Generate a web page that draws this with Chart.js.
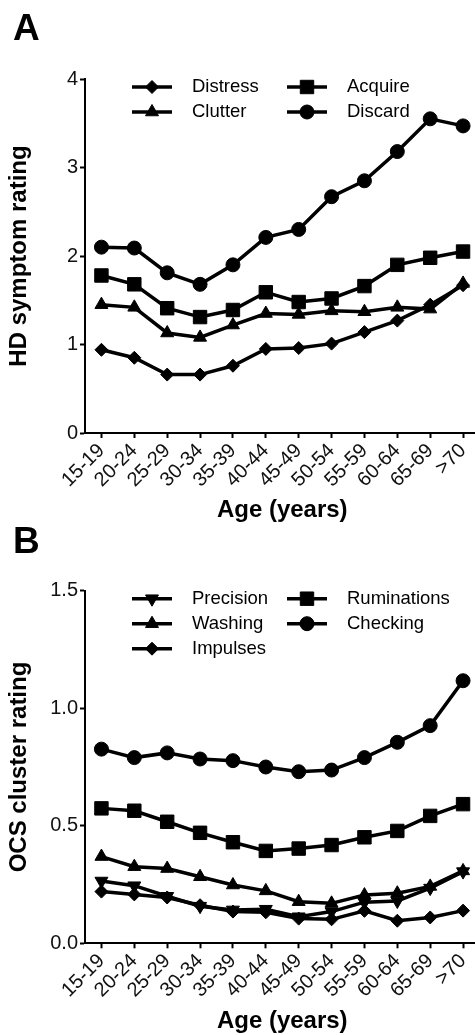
<!DOCTYPE html>
<html>
<head>
<meta charset="utf-8">
<script src="https://cdn.jsdelivr.net/npm/chart.js@4.4.1/dist/chart.umd.min.js"></script>
<style>
  html, body { margin: 0; padding: 0; background: #fff; overflow: hidden; }
  body { width: 475px; height: 1035px; position: relative; }
  canvas { position: absolute; left: 0; }
  #chartA { top: 0; }
  #chartB { top: 513px; }
  .panel { position: absolute; font: bold 37px "Liberation Sans", Arial, sans-serif; line-height: 1; color: #000; }
</style>
</head>
<body>
<canvas id="chartA" width="490" height="525"></canvas>
<canvas id="chartB" width="490" height="523"></canvas>
<div class="panel" style="left:13px;top:9px">A</div>
<div class="panel" style="left:13px;top:522px">B</div>
<script>
// age groups (x axis)
const ageGroups = ['15-19', '20-24', '25-29', '30-34', '35-39', '40-44', '45-49', '50-54', '55-59', '60-64', '65-69', '>70'];

// panel A - HD symptom rating
const distress = [0.94, 0.85, 0.66, 0.66, 0.76, 0.95, 0.96, 1.01, 1.14, 1.27, 1.45, 1.67];
const clutter  = [1.45, 1.42, 1.13, 1.08, 1.22, 1.35, 1.34, 1.38, 1.37, 1.42, 1.40, 1.69];
const acquire  = [1.78, 1.68, 1.41, 1.31, 1.39, 1.59, 1.48, 1.52, 1.66, 1.90, 1.98, 2.05];
const discard  = [2.10, 2.09, 1.81, 1.68, 1.90, 2.21, 2.30, 2.67, 2.85, 3.18, 3.55, 3.47];
const ticksA = [0, 1, 2, 3, 4];

// panel B - OCS cluster rating
const precision   = [0.265, 0.245, 0.200, 0.158, 0.142, 0.145, 0.113, 0.135, 0.175, 0.180, 0.235, 0.305];
const washing     = [0.369, 0.326, 0.318, 0.283, 0.248, 0.223, 0.177, 0.170, 0.205, 0.213, 0.242, 0.308];
const impulses    = [0.220, 0.208, 0.195, 0.162, 0.135, 0.132, 0.105, 0.102, 0.138, 0.096, 0.110, 0.139];
const ruminations = [0.574, 0.564, 0.517, 0.470, 0.430, 0.393, 0.403, 0.418, 0.451, 0.478, 0.542, 0.592];
const checking    = [0.826, 0.790, 0.810, 0.784, 0.777, 0.750, 0.730, 0.737, 0.790, 0.855, 0.926, 1.117];
const ticksB = [0, 0.5, 1.0, 1.5];

const FONT = '"Liberation Sans", Arial, sans-serif';

// marker look per shape
const markers = {
    circle:   {pointStyle: 'circle', pointRadius: 7},
    square:   {pointStyle: 'rect', pointRadius: 9.5},
    triangle: {pointStyle: 'triangle', pointRadius: 7.5},
    down:     {pointStyle: 'triangle', pointRadius: 7.5, pointRotation: 180},
    diamond:  {pointStyle: 'rectRot', pointRadius: 6.5}
};

function series(label, data, shape) {
    return Object.assign({
        label: label,
        data: data,
        borderColor: '#000',
        backgroundColor: '#000',
        borderWidth: 3.5,
        pointBorderWidth: 1,
        pointBackgroundColor: '#000',
        pointBorderColor: '#000',
        tension: 0
    }, markers[shape]);
}

// legend drawn inside the plot area, two columns
const insideLegend = {
    id: 'insideLegend',
    afterDraw(chart, args, opts) {
        const ctx = chart.ctx;
        const area = chart.chartArea;
        ctx.save();
        chart.data.datasets.forEach(function (ds, i) {
            const pos = opts.layout[i];
            const x = area.left + 47 + pos[0] * 155;
            const y = area.top + 8 + pos[1] * 25;
            ctx.strokeStyle = '#000';
            ctx.fillStyle = '#000';
            ctx.lineWidth = 3.5;
            ctx.beginPath();
            ctx.moveTo(x, y);
            ctx.lineTo(x + 40, y);
            ctx.stroke();
            ctx.lineWidth = 1;
            Chart.helpers.drawPoint(ctx, {
                pointStyle: ds.pointStyle,
                radius: ds.pointRadius,
                rotation: ds.pointRotation || 0,
                borderWidth: 1
            }, x + 20, y);
            ctx.font = '18.5px ' + FONT;
            ctx.textBaseline = 'middle';
            ctx.textAlign = 'left';
            ctx.fillText(ds.label, x + 60, y);
        });
        ctx.restore();
    }
};

function makeChart(id, datasets, layout, yMax, yStep, yTitle, topPad, xHeight, fmt) {
    return new Chart(document.getElementById(id), {
        type: 'line',
        data: {labels: ageGroups, datasets: datasets},
        plugins: [insideLegend],
        options: {
            responsive: false,
            animation: false,
            layout: {padding: {left: 5, top: topPad, right: 4, bottom: 0}},
            plugins: {
                legend: {display: false},
                tooltip: {enabled: false},
                insideLegend: {layout: layout}
            },
            scales: {
                x: {
                    type: 'category',
                    offset: true,
                    grid: {offset: false, drawOnChartArea: false, drawTicks: true, tickLength: 5, tickWidth: 2, tickColor: '#000', color: '#000'},
                    border: {display: true, color: '#000', width: 2},
                    ticks: {autoSkip: false, minRotation: 45, maxRotation: 45, padding: 1, color: '#111', font: {family: FONT, size: 20}},
                    title: {display: true, text: 'Age (years)', color: '#000', padding: 0, font: {family: FONT, size: 24, weight: 'bold'}},
                    afterFit: function (scale) { scale.height = xHeight; }
                },
                y: {
                    min: 0,
                    max: yMax,
                    grid: {drawOnChartArea: false, drawTicks: true, tickLength: 5, tickWidth: 2, tickColor: '#000', color: '#000'},
                    border: {display: true, color: '#000', width: 2},
                    ticks: {stepSize: yStep, padding: 2, color: '#111', font: {family: FONT, size: 20}, callback: fmt},
                    title: {display: true, text: yTitle, color: '#000', padding: 0, font: {family: FONT, size: 24, weight: 'bold'}},
                    afterFit: function (scale) { scale.width = 80; }
                }
            }
        }
    });
}

makeChart('chartA', [
    series('Distress', distress, 'diamond'),
    series('Clutter', clutter, 'triangle'),
    series('Acquire', acquire, 'square'),
    series('Discard', discard, 'circle')
], [[0, 0], [0, 1], [1, 0], [1, 1]], ticksA[ticksA.length - 1], ticksA[1] - ticksA[0],
   'HD symptom rating', 79, 92, function (v) { return v; });

makeChart('chartB', [
    series('Precision', precision, 'down'),
    series('Washing', washing, 'triangle'),
    series('Impulses', impulses, 'diamond'),
    series('Ruminations', ruminations, 'square'),
    series('Checking', checking, 'circle')
], [[0, 0], [0, 1], [0, 2], [1, 0], [1, 1]], ticksB[ticksB.length - 1], ticksB[1] - ticksB[0],
   'OCS cluster rating', 77.7, 92.7, function (v) { return v.toFixed(1); });
</script>
</body>
</html>
